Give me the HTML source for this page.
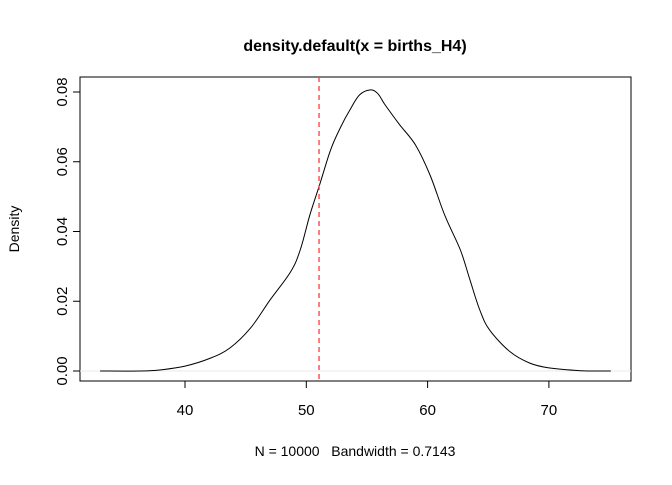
<!DOCTYPE html>
<html><head><meta charset="utf-8"><style>
html,body{margin:0;padding:0;background:#fff;}
svg text{font-family:"Liberation Sans",Arial,sans-serif;fill:#000;white-space:pre;}
</style></head><body>
<svg width="672" height="480" viewBox="0 0 672 480" xmlns="http://www.w3.org/2000/svg">
<rect x="0" y="0" width="672" height="480" fill="#fff"/>
<text x="355" y="51" text-anchor="middle" font-size="16" font-weight="bold">density.default(x = births_H4)</text>
<rect x="80" y="77" width="551" height="304" fill="none" stroke="#000" stroke-width="1"/>
<g id="xaxis"></g>
<g id="yaxis"></g>
<line id="base" stroke="#e8e8e8" stroke-width="1"/>
<path id="curve" fill="none" stroke="#000" stroke-width="1"/>
<line id="vline" stroke="#ff3b3b" stroke-width="1.3" stroke-dasharray="5,4"/>
<text x="355" y="456" text-anchor="middle" font-size="14">N = 10000   Bandwidth = 0.7143</text>
<text transform="translate(19,229) rotate(-90)" text-anchor="middle" font-size="14">Density</text>
</svg>
<script>
const xs=[33.0,36.3,37.9,40,42.1,43.7,45.4,47.0,48.7,49.5,50.3,51.1,52.0,52.8,53.6,54.4,55.3,55.9,56.5,57.7,59.0,60.2,61.4,62.7,63.5,64.3,65.1,66.8,68.4,70,72.6,75.1];
const ys=[0,0,0.0003,0.0014,0.0037,0.0066,0.0123,0.0203,0.0284,0.0347,0.0448,0.0534,0.0634,0.0697,0.0749,0.0792,0.0806,0.0795,0.0763,0.0706,0.0648,0.0562,0.0448,0.0347,0.0260,0.0175,0.0118,0.0055,0.0023,0.0009,0.0001,0];
const xTicks=[40,50,60,70];
const yTicks=[0,0.02,0.04,0.06,0.08];
const yTickLabels=["0.00","0.02","0.04","0.06","0.08"];
const refX=51.05;
const NS="http://www.w3.org/2000/svg";
const sx=v=>185+(v-40)*12.13;
const sy=v=>371-v*3487.5;
const P=xs.map((x,i)=>[sx(x),sy(ys[i])]);
let d='M'+P[0][0].toFixed(1)+','+P[0][1].toFixed(1);
for(let i=0;i<P.length-1;i++){
 const p0=P[Math.max(i-1,0)],p1=P[i],p2=P[i+1],p3=P[Math.min(i+2,P.length-1)];
 const c1=[p1[0]+(p2[0]-p0[0])/6,p1[1]+(p2[1]-p0[1])/6];
 const c2=[p2[0]-(p3[0]-p1[0])/6,p2[1]-(p3[1]-p1[1])/6];
 d+=`C${c1[0].toFixed(1)},${c1[1].toFixed(1)} ${c2[0].toFixed(1)},${c2[1].toFixed(1)} ${p2[0].toFixed(1)},${p2[1].toFixed(1)}`;
}
document.getElementById('curve').setAttribute('d',d);
const b=document.getElementById('base');
b.setAttribute('x1',80);b.setAttribute('x2',631);b.setAttribute('y1',sy(0));b.setAttribute('y2',sy(0));
const vl=document.getElementById('vline');
vl.setAttribute('x1',sx(refX));vl.setAttribute('x2',sx(refX));vl.setAttribute('y1',77);vl.setAttribute('y2',381);
const xa=document.getElementById('xaxis');
function mk(tag,attrs,parent){const e=document.createElementNS(NS,tag);for(const k in attrs)e.setAttribute(k,attrs[k]);parent.appendChild(e);return e;}
mk('line',{x1:sx(xTicks[0]),x2:sx(xTicks[xTicks.length-1]),y1:381,y2:381,stroke:'#000'},xa);
xTicks.forEach(t=>{
 const l=mk('line',{x1:sx(t),x2:sx(t),y1:381,y2:388,stroke:'#000'},xa);
 
 
 const tx=mk('text',{x:sx(t),y:415,'text-anchor':'middle','font-size':15},xa);
 tx.textContent=t;
 
 
});
const ya=document.getElementById('yaxis');
mk('line',{x1:80,x2:80,y1:sy(yTicks[0]),y2:sy(yTicks[yTicks.length-1]),stroke:'#000'},ya);
yTicks.forEach((t,i)=>{
 const l=mk('line',{x1:73,x2:80,y1:sy(t),y2:sy(t),stroke:'#000'},ya);
 
 
 const tx=mk('text',{transform:`translate(67,${sy(t)}) rotate(-90)`,'text-anchor':'middle','font-size':15},ya);
 tx.textContent=yTickLabels[i];
 
 
});
</script>
</body></html>
